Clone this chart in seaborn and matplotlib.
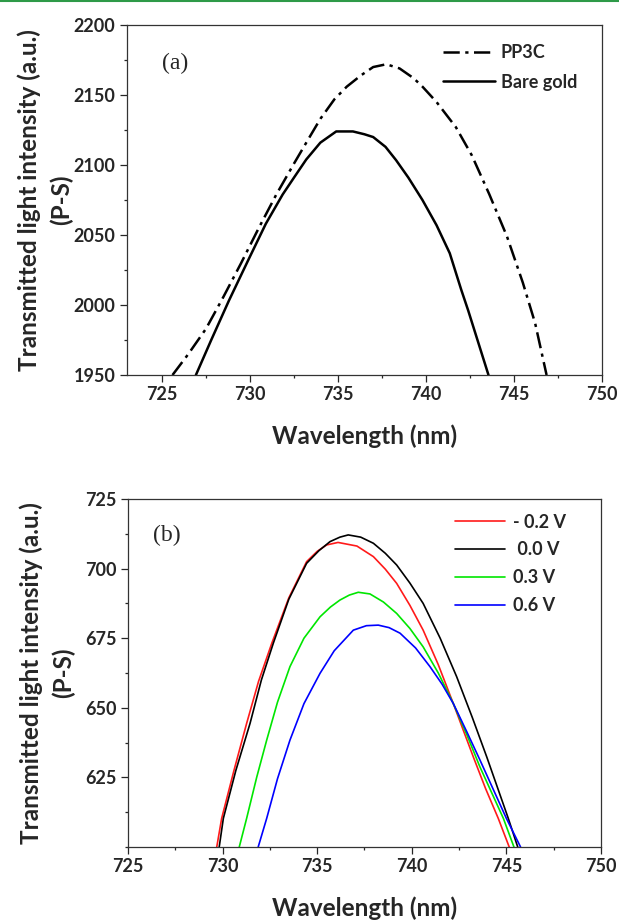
import pandas as pd
import matplotlib
matplotlib.use("Agg")
import matplotlib.pyplot as plt
from matplotlib.ticker import MultipleLocator
from matplotlib.lines import Line2D
import seaborn as sns

# panel (a)
wl_pp3c = [725.6, 726.5, 727.5, 728.5, 729.5, 730.5, 731.5, 732.5, 733.2, 734.0, 734.8, 735.5,
           736.3, 737.0, 737.75, 738.5, 739.3, 739.8, 740.6, 741.7, 742.6, 743.6, 744.6, 745.5,
           746.2, 746.85]
int_pp3c = [1950, 1965, 1983, 2006, 2030, 2055, 2079, 2101, 2116, 2133, 2147, 2156,
            2164, 2170, 2172, 2169, 2162, 2156, 2145, 2127, 2107, 2079, 2049, 2016,
            1987, 1950]
wl_gold = [726.93, 727.8, 728.8, 729.9, 730.9, 731.86, 732.5, 733.2, 734.0, 734.9, 735.85,
           736.5, 737.0, 737.7, 738.3, 739.0, 739.8, 740.6, 741.35, 742.0, 742.4, 743.0, 743.55]
int_gold = [1950, 1975, 2003, 2032, 2058, 2079, 2091, 2104, 2116, 2124, 2124,
            2122, 2120, 2113, 2103.5, 2091, 2075, 2057, 2037, 2011, 1996, 1972, 1950]

# panel (b)
wl_m02 = [729.69, 729.95, 730.6, 731.27, 731.9, 732.6, 733.5, 734.44, 735.0, 735.5, 736.1,
          737.1, 737.97, 738.6, 739.2, 739.9, 740.6, 741.4, 742.19, 743.25, 743.9, 744.57, 745.15]
int_m02 = [600, 610.3, 627.5, 644.4, 659.5, 673.2, 689.5, 702.5, 706.2, 708.5, 709.4,
           708.1, 704.3, 699.8, 694.7, 686.8, 677.9, 665.5, 651.6, 632.4, 621.0, 610.3, 600]
wl_00 = [729.82, 730.04, 730.7, 731.45, 732.05, 732.68, 733.5, 734.44, 735.1, 735.68, 736.2,
         736.64, 737.3, 737.97, 738.6, 739.2, 739.9, 740.6, 741.5, 742.37, 743.2, 743.96, 745.1, 745.6]
int_00 = [600, 610.3, 627.5, 644.4, 660.0, 673.2, 689.0, 701.9, 706.5, 709.7, 711.3,
          712.1, 711.3, 709.1, 705.5, 701.3, 694.8, 687.5, 675.0, 661.2, 646.5, 632.4, 610.3, 600]
wl_03 = [730.88, 731.27, 731.8, 732.33, 732.9, 733.56, 734.3, 735.15, 735.7, 736.2, 736.7,
         737.17, 737.79, 738.5, 739.2, 739.9, 740.6, 741.4, 742.19, 742.9, 743.6, 744.84, 745.4]
int_03 = [600, 610.3, 625.0, 638.4, 652.0, 664.8, 675.0, 682.7, 686.2, 688.7, 690.5,
          691.5, 690.9, 688.0, 683.9, 678.5, 671.9, 662.5, 651.6, 640.5, 628.8, 610.3, 600]
wl_06 = [731.88, 732.33, 732.9, 733.56, 734.3, 735.15, 735.9, 736.91, 737.6, 738.23, 738.8,
         739.38, 740.2, 740.96, 741.6, 742.19, 742.9, 743.6, 744.3, 745.0, 745.75]
int_06 = [600, 610.3, 624.5, 638.4, 651.5, 662.4, 670.5, 677.9, 679.5, 679.7, 678.8,
          676.8, 671.5, 664.8, 658.5, 651.6, 641.5, 631.3, 620.8, 610.3, 600]

labels_a = ["PP3C", "Bare gold"]
labels_b = ["- 0.2 V", " 0.0 V", "0.3 V", "0.6 V"]
colors_b = ["#ff1a1a", "#000000", "#00e600", "#0000ff"]

dfa = pd.concat([
    pd.DataFrame({"wl": wl_pp3c, "I": int_pp3c, "s": labels_a[0]}),
    pd.DataFrame({"wl": wl_gold, "I": int_gold, "s": labels_a[1]}),
])
dfb = pd.concat([
    pd.DataFrame({"wl": w, "I": v, "s": lab})
    for w, v, lab in zip([wl_m02, wl_00, wl_03, wl_06],
                         [int_m02, int_00, int_03, int_06], labels_b)
])

sns.set_style("ticks")
plt.rcParams["font.family"] = ["Lato", "DejaVu Sans"]
plt.rcParams["font.weight"] = "bold"
plt.rcParams["axes.labelweight"] = "bold"
plt.rcParams["axes.edgecolor"] = "#333333"
plt.rcParams["axes.linewidth"] = 0.9

fig = plt.figure(figsize=(6.19, 9.21), dpi=100)
ax1 = fig.add_axes([0.2047, 0.5928, 0.7679, 0.38])
ax2 = fig.add_axes([0.2068, 0.0803, 0.7641, 0.3779])

sns.lineplot(data=dfa, x="wl", y="I", hue="s", style="s", hue_order=labels_a, style_order=labels_a,
             palette=["black", "black"], dashes={"PP3C": (6.5, 2.2, 1.3, 2.2), "Bare gold": ""},
             linewidth=1.8, estimator=None, sort=False, ax=ax1)
sns.lineplot(data=dfb, x="wl", y="I", hue="s", hue_order=labels_b, palette=colors_b,
             linewidth=1.2, estimator=None, sort=False, ax=ax2)

legend_font = {"family": "Lato", "weight": "bold", "size": 13}
sns.move_legend(ax1, "upper left", bbox_to_anchor=(0.665, 0.945), frameon=False, title=None,
                handlelength=2.9, handletextpad=0.3, labelspacing=0.68, borderpad=0,
                borderaxespad=0, prop=legend_font)
sns.move_legend(ax2, "upper left", bbox_to_anchor=(0.691, 0.958), frameon=False, title=None,
                handlelength=2.8, handletextpad=0.4, labelspacing=0.6, borderpad=0,
                borderaxespad=0, prop=legend_font)

ylab = "Transmitted light intensity (a.u.)\n(P-S)"
for ax, xlim, ylim, ymaj, ymin, tag, tpos in [
        (ax1, (723, 750), (1950, 2200), 50, 25, "(a)", (0.0736, 0.8906)),
        (ax2, (725, 750), (600, 725), 25, 12.5, "(b)", (0.0535, 0.8966))]:
    ax.set_xlim(*xlim)
    ax.set_ylim(*ylim)
    ax.xaxis.set_major_locator(MultipleLocator(5))
    ax.xaxis.set_minor_locator(MultipleLocator(2.5))
    ax.yaxis.set_major_locator(MultipleLocator(ymaj))
    ax.yaxis.set_minor_locator(MultipleLocator(ymin))
    ax.tick_params(which="major", direction="out", length=5, width=0.9, labelsize=13, pad=3)
    ax.tick_params(which="minor", direction="out", length=2.5, width=0.9)
    for label in ax.get_xticklabels() + ax.get_yticklabels():
        label.set_fontweight("bold")
    ax.set_xlabel("Wavelength (nm)", fontsize=17.5, fontweight="bold", labelpad=15)
    ax.set_ylabel(ylab, fontsize=17.5, fontweight="bold", linespacing=1.45)
    ax.yaxis.set_label_coords(-0.112, 0.5)
    ax.text(tpos[0], tpos[1], tag, transform=ax.transAxes, fontsize=17,
            family="Liberation Serif", fontweight="normal", va="center", ha="left")

# lowest y tick of panel (b) carries no label in the original
ax2.set_yticks([625, 650, 675, 700, 725])

# green rule at the top of the page
fig.add_artist(Line2D([0, 1], [0.999, 0.999], transform=fig.transFigure, color="#2e9a48", lw=1.5))

plt.savefig("out.png", dpi=100)
